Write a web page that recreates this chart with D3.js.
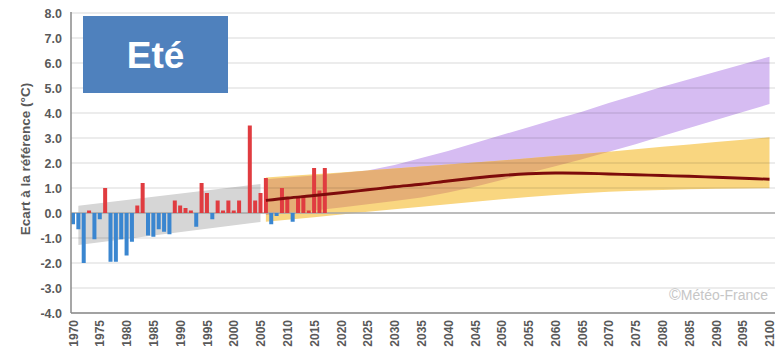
<!DOCTYPE html>
<html>
<head>
<meta charset="utf-8">
<script src="https://cdn.jsdelivr.net/npm/d3@7"></script>
<style>
  html, body { margin: 0; padding: 0; background: #ffffff; }
  svg { display: block; }
  text { font-family: "Liberation Sans", Arial, sans-serif; }
</style>
</head>
<body>
<svg id="chart" width="784" height="352"></svg>
<script>
// Observed summer temperature anomaly (°C) relative to the reference period
const obsYears = [1970, 1971, 1972, 1973, 1974, 1975, 1976, 1977, 1978, 1979,
                  1980, 1981, 1982, 1983, 1984, 1985, 1986, 1987, 1988, 1989,
                  1990, 1991, 1992, 1993, 1994, 1995, 1996, 1997, 1998, 1999,
                  2000, 2001, 2002, 2003, 2004, 2005, 2006, 2007, 2008, 2009,
                  2010, 2011, 2012, 2013, 2014, 2015, 2016, 2017];
const obsAnomaly = [-0.45, -0.65, -2.0, 0.1, -1.05, -0.25, 1.0, -1.95, -1.95, -1.05,
                    -1.7, -1.15, 0.3, 1.2, -0.9, -0.95, -0.65, -0.75, -0.85, 0.5,
                    0.3, 0.2, 0.1, -0.55, 1.2, 0.8, -0.25, 0.5, 0.1, 0.5,
                    0.1, 0.5, 0.0, 3.5, 0.5, 0.8, 1.4, -0.45, -0.12, 1.0,
                    0.6, -0.35, 0.6, 0.7, 0.1, 1.8, 0.9, 1.8];

// Historical trend envelope
const histYears = [1971, 2005];
const histLow = [-1.28, -0.36];
const histHigh = [0.29, 1.16];

// Projections 2006-2100
const projYears = [2006, 2010, 2015, 2020, 2025, 2030, 2035, 2040, 2045, 2050,
                   2055, 2060, 2065, 2070, 2075, 2080, 2085, 2090, 2095, 2100];
// High-emission scenario envelope
const highLow = [-0.08, 0.0, 0.1, 0.22, 0.35, 0.48, 0.62, 0.82, 1.05, 1.32,
                 1.6, 1.87, 2.15, 2.45, 2.75, 3.08, 3.4, 3.72, 4.04, 4.36];
const highHigh = [1.35, 1.42, 1.5, 1.6, 1.7, 1.92, 2.2, 2.48, 2.8, 3.12,
                  3.43, 3.75, 4.05, 4.4, 4.72, 5.05, 5.35, 5.65, 5.95, 6.25];
// Low-emission scenario envelope and median
const lowLow = [-0.35, -0.27, -0.17, -0.06, 0.05, 0.15, 0.25, 0.35, 0.45, 0.55,
                0.64, 0.72, 0.79, 0.85, 0.89, 0.92, 0.95, 0.97, 0.98, 0.99];
const lowHigh = [1.42, 1.48, 1.55, 1.62, 1.7, 1.78, 1.86, 1.94, 2.02, 2.1,
                 2.19, 2.28, 2.36, 2.45, 2.55, 2.65, 2.74, 2.84, 2.93, 3.03];
const lowMedian = [0.5, 0.6, 0.7, 0.81, 0.93, 1.05, 1.15, 1.28, 1.4, 1.5,
                   1.57, 1.6, 1.59, 1.56, 1.53, 1.5, 1.47, 1.43, 1.39, 1.35];

// Axis ticks
const yTicks = [-4, -3, -2, -1, 0, 1, 2, 3, 4, 5, 6, 7, 8];
const xTicks = [1970, 1975, 1980, 1985, 1990, 1995, 2000, 2005, 2010, 2015, 2020,
                2025, 2030, 2035, 2040, 2045, 2050, 2055, 2060, 2065, 2070,
                2075, 2080, 2085, 2090, 2095, 2100];

const seasonLabel = "Eté";
const yTitle = "Ecart à la référence (°C)";
const creditMark = "©";
const creditName = "Météo-France";

const svg = d3.select("#chart");
const plotLeft = 71, plotRight = 775, plotTop = 12, plotBottom = 313;

const x = d3.scaleLinear().domain([1970, 2100]).range([73, 769.5]);
const y = d3.scaleLinear().domain([-4, 8]).range([313, 13]);

const textColor = "#595959";

// Envelopes
const band = (xs, lo, hi) => d3.area()
  .x((d, i) => x(xs[i]))
  .y0((d, i) => y(lo[i]))
  .y1((d, i) => y(hi[i]))(xs);

svg.append("path").attr("d", band(histYears, histLow, histHigh)).attr("fill", "#d6d6d6");

const defs = svg.append("defs");
defs.append("clipPath").attr("id", "lowClip")
  .append("path").attr("d", band(projYears, lowLow, lowHigh));

svg.append("path").attr("d", band(projYears, highLow, highHigh)).attr("fill", "#d6bcf2");
svg.append("path").attr("d", band(projYears, lowLow, lowHigh)).attr("fill", "#f9d680");
// Where both envelopes overlap
svg.append("path").attr("d", band(projYears, highLow, highHigh))
  .attr("clip-path", "url(#lowClip)").attr("fill", "#e5af76");

// Horizontal gridlines
svg.append("g").selectAll("line").data(yTicks.filter(t => t !== 0)).join("line")
  .attr("x1", plotLeft).attr("x2", plotRight)
  .attr("y1", d => y(d)).attr("y2", d => y(d))
  .attr("stroke", "#000").attr("stroke-opacity", 0.1).attr("stroke-width", 1.5);

// Zero line
svg.append("line")
  .attr("x1", plotLeft).attr("x2", plotRight)
  .attr("y1", y(0)).attr("y2", y(0))
  .attr("stroke", "#a6a6a6").attr("stroke-width", 1.5);

// Anomaly bars
const barW = 4;
svg.append("g").selectAll("rect").data(obsAnomaly).join("rect")
  .attr("x", (d, i) => x(obsYears[i]) - barW / 2)
  .attr("width", barW)
  .attr("y", d => y(Math.max(0, d)))
  .attr("height", d => Math.abs(y(d) - y(0)))
  .attr("fill", d => d >= 0 ? "#e03c40" : "#3a86d0");

// Median projection line
svg.append("path")
  .attr("d", d3.line().x((d, i) => x(projYears[i])).y(d => y(d)).curve(d3.curveMonotoneX)(lowMedian))
  .attr("fill", "none").attr("stroke", "#7d0b0b").attr("stroke-width", 2.8);

// Axes
const yAxis = svg.append("g").attr("transform", `translate(${plotLeft},0)`)
  .call(d3.axisLeft(y).tickValues(yTicks).tickFormat(d => d.toFixed(1)).tickSize(0).tickPadding(9));
yAxis.select(".domain").remove();
yAxis.selectAll("text").attr("font-size", 12.5).attr("font-weight", "bold").attr("fill", textColor)
  .attr("font-family", "'Liberation Sans', Arial, sans-serif");

const xAxis = svg.append("g").attr("transform", `translate(0,${plotBottom})`)
  .call(d3.axisBottom(x).tickValues(xTicks).tickFormat(d3.format("d")).tickSize(0));
xAxis.select(".domain").remove();
xAxis.selectAll("text")
  .attr("transform", "rotate(-90)")
  .attr("x", -7).attr("y", 0).attr("dy", "0.35em")
  .attr("text-anchor", "end")
  .attr("font-size", 12).attr("font-weight", "bold").attr("fill", textColor)
  .attr("font-family", "'Liberation Sans', Arial, sans-serif");

svg.append("line").attr("x1", plotLeft).attr("x2", plotLeft).attr("y1", plotTop).attr("y2", plotBottom)
  .attr("stroke", "#8a8a8a").attr("stroke-width", 1.5);
svg.append("line").attr("x1", plotLeft).attr("x2", plotRight).attr("y1", plotBottom).attr("y2", plotBottom)
  .attr("stroke", "#8a8a8a").attr("stroke-width", 1.5);

// Axis title
svg.append("text")
  .attr("transform", "translate(25,159) rotate(-90)")
  .attr("text-anchor", "middle").attr("dy", "0.35em")
  .attr("font-size", 13.5).attr("font-weight", "bold").attr("fill", textColor)
  .text(yTitle);

// Season tag
svg.append("rect").attr("x", 83).attr("y", 16).attr("width", 145).attr("height", 77).attr("fill", "#4f81bd");
svg.append("text").attr("x", 155.5).attr("y", 68).attr("text-anchor", "middle")
  .attr("font-family", "Lato, 'Open Sans', sans-serif").attr("font-weight", "bold")
  .attr("font-size", 37).attr("fill", "#ffffff").text(seasonLabel);

// Credit
const creditText = svg.append("text").attr("x", 768).attr("y", 300).attr("text-anchor", "end")
  .attr("fill", "#c6c6c6");
creditText.append("tspan").attr("font-size", 16).text(creditMark);
creditText.append("tspan").attr("font-size", 14).text(creditName);
</script>
</body>
</html>
